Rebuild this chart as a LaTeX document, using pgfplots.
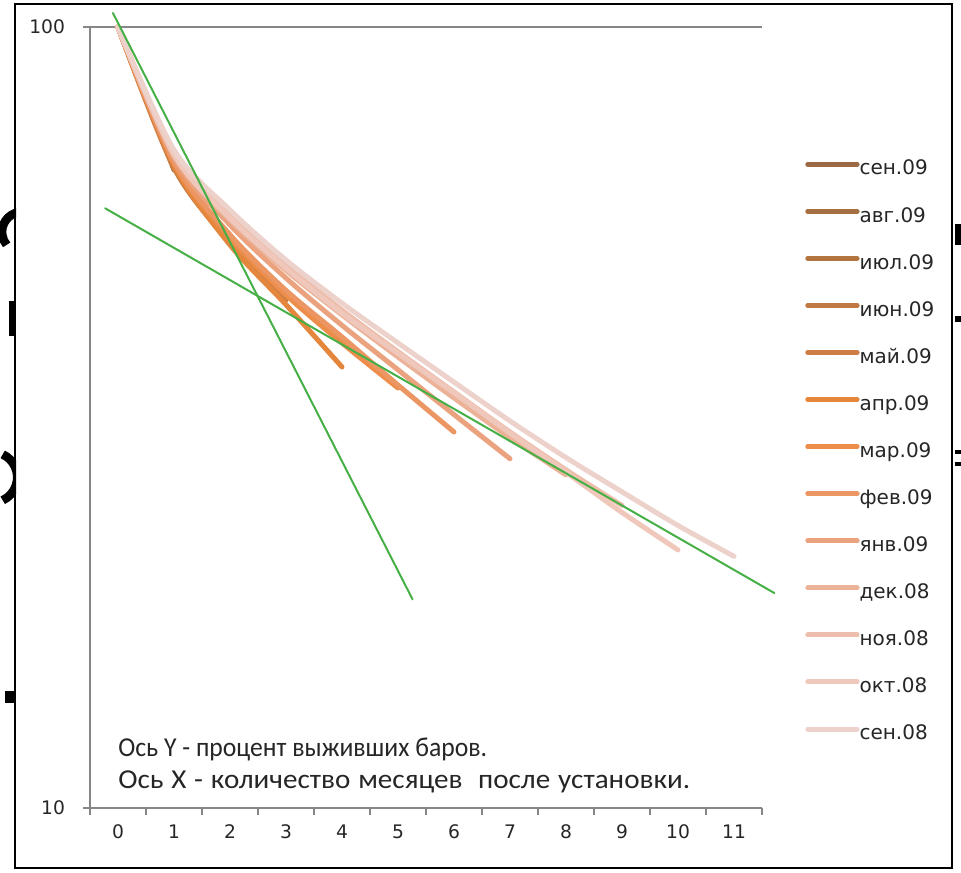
\documentclass[border=0pt]{standalone}
\usepackage{fontspec}
\setmainfont{DejaVu Sans}
\newfontfamily\carlito{Carlito}
\usepackage{pgfplots}
\pgfplotsset{compat=1.18}
\definecolor{axisgray}{RGB}{134,134,134}
\definecolor{gline}{RGB}{70,175,70}
\definecolor{c01}{RGB}{155,106,68}
\definecolor{c02}{RGB}{166,111,66}
\definecolor{c03}{RGB}{180,116,64}
\definecolor{c04}{RGB}{192,121,66}
\definecolor{c05}{RGB}{204,126,68}
\definecolor{c06}{RGB}{228,134,60}
\definecolor{c07}{RGB}{236,142,74}
\definecolor{c08}{RGB}{236,150,100}
\definecolor{c09}{RGB}{235,162,126}
\definecolor{c10}{RGB}{235,178,152}
\definecolor{c11}{RGB}{238,190,172}
\definecolor{c12}{RGB}{240,199,187}
\definecolor{c13}{RGB}{237,210,204}
\begin{document}
\begin{tikzpicture}
\path[use as bounding box] (0pt,0pt) rectangle (720.75pt,-654.75pt);
% fragments of the slide text behind the chart
\begin{scope}
\clip (0pt,0pt) rectangle (12pt,-654.75pt);
\draw[black, line width=6.5pt] (16.5pt,-174pt) ++(100:15pt) arc[start angle=100, end angle=220, radius=15pt];
\fill[black] (6.5pt,-226pt) rectangle (12pt,-252pt);
\draw[black, line width=6.5pt] (-6pt,-358pt) ++(-65:19pt) arc[start angle=-65, end angle=65, radius=19pt];
\fill[black] (3.5pt,-518pt) rectangle (12pt,-527pt);
\end{scope}
\fill[black] (716.25pt,-168pt) rectangle (720.75pt,-184pt);
\fill[black] (716.25pt,-237pt) rectangle (720.75pt,-241.5pt);
\fill[black] (716.25pt,-337.5pt) rectangle (720.75pt,-340.5pt);
\fill[black] (716.25pt,-346.5pt) rectangle (720.75pt,-349.5pt);
\draw[black, line width=1.5pt] (11.25pt,-3pt) rectangle (714pt,-651pt);
\begin{axis}[
  at={(67.5pt,-606pt)}, anchor=south west,
  scale only axis, width=504pt, height=585.75pt,
  clip=false,
  xmin=-0.5, xmax=11.5, ymode=log, ymin=10, ymax=100,
  axis x line=bottom, axis y line=left,
  axis line style={draw=axisgray, line width=0.9pt, -},
  xtick={-0.5,0.5,...,11.5}, x tick label as interval,
  xticklabels={0,1,2,3,4,5,6,7,8,9,10,11},
  ytick={10,100}, yticklabels={10,100}, yminorticks=false,
  ymajorgrids, grid style={draw=axisgray, line width=0.9pt},
  tick align=outside, major tick length=5.25pt,
  tick style={draw=axisgray, line width=0.9pt},
  /pgf/number format/assume math mode=true,
  ticklabel style={font=\fontsize{14pt}{14pt}\selectfont, text=black!85},
  xticklabel style={yshift=-4pt},
  yticklabel style={xshift=-10pt},
  legend style={draw=none, fill=none, at={(1.064,0.8297)}, anchor=north west,
    inner sep=0pt, row sep=21.3pt, column sep=0pt,
    font=\fontsize{15pt}{15pt}\selectfont,
    nodes={inner sep=0pt, text height=11pt, text depth=3pt, text=black!85}},
  legend cell align=left,
  legend image code/.code={\draw[#1, line width=3.75pt] (0pt,4pt) -- (37pt,4pt);},
  every axis plot/.append style={line width=3.75pt, line cap=round, line join=round, smooth},
]
\addlegendimage{c01}
\addlegendentry{сен.09}
\addlegendimage{c02}
\addlegendentry{авг.09}
\addplot[c03] coordinates {(0,100)(1,65.6)};
\addlegendentry{июл.09}
\addplot[c04] coordinates {(0,100)(1,66.6)(2,53.4)};
\addlegendentry{июн.09}
\addplot[c05] coordinates {(0,100)(1,66.0)(2,53.0)(3,44.7)};
\addlegendentry{май.09}
\addplot[c06] coordinates {(0,100)(1,66.6)(2,52.6)(3,44.1)(4,36.7)};
\addlegendentry{апр.09}
\addplot[c07] coordinates {(0,100)(1,67.0)(2,53.7)(3,45.4)(4,39.4)(5,34.5)};
\addlegendentry{мар.09}
\addplot[c08] coordinates {(0,100)(1,67.2)(2,54.2)(3,46.0)(4,40.1)(5,34.8)(6,30.3)};
\addlegendentry{фев.09}
\addplot[c09] coordinates {(0,100)(1,68.0)(2,55.8)(3,47.7)(4,41.5)(5,36.4)(6,31.9)(7,28.0)};
\addlegendentry{янв.09}
\addplot[c10] coordinates {(0,100)(1,68.6)(2,56.6)(3,48.8)(4,42.8)(5,37.8)(6,33.5)(7,29.8)(8,26.7)};
\addlegendentry{дек.08}
\addplot[c11] coordinates {(0,100)(1,69.0)(2,57.4)(3,49.6)(4,43.4)(5,38.4)(6,34.1)(7,30.3)(8,27.1)(9,24.4)};
\addlegendentry{ноя.08}
\addplot[c12] coordinates {(0,100)(1,68.6)(2,56.9)(3,49.1)(4,43.0)(5,38.2)(6,34.0)(7,30.2)(8,26.9)(9,23.9)(10,21.4)};
\addlegendentry{окт.08}
\addplot[c13] coordinates {(0,100)(1,69.6)(2,58.3)(3,50.3)(4,44.3)(5,39.4)(6,35.1)(7,31.3)(8,28.1)(9,25.4)(10,23.0)(11,21.0)};
\addlegendentry{сен.08}
\addplot[gline, line width=1.5pt, forget plot] coordinates {(-0.09,104.2)(5.26,18.5)};
\addplot[gline, line width=1.5pt, forget plot] coordinates {(-0.23,58.6)(11.72,18.85)};
\end{axis}
\node[anchor=base west, inner sep=0pt, text=black!85, font=\carlito\fontsize{20.5pt}{20.5pt}\selectfont] at (88.5pt,-567pt) {\scalebox{0.94}[1]{Ось Y - процент выживших баров.}};
\node[anchor=base west, inner sep=0pt, text=black!85, font=\carlito\fontsize{20.5pt}{20.5pt}\selectfont] at (88.5pt,-591pt) {\scalebox{1.065}[1]{\spaceskip=5.5pt Ось X - количество месяцев\hspace{5.5pt} после установки.}};
\end{tikzpicture}
\end{document}
